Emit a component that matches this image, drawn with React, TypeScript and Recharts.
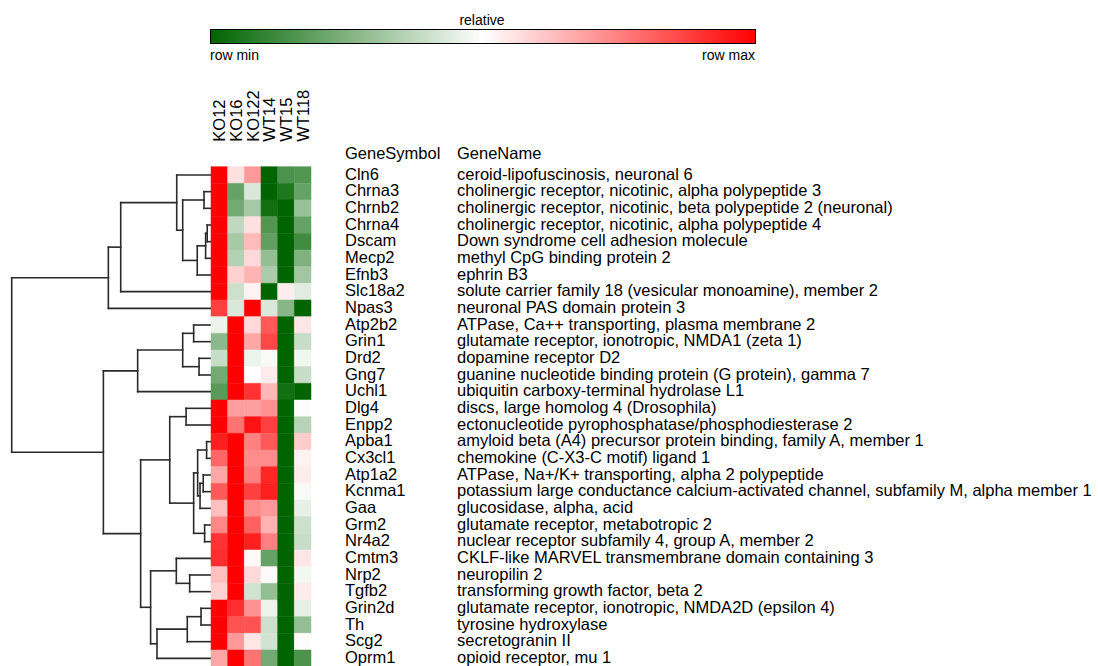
import { ComposedChart, XAxis, YAxis, ReferenceArea, ReferenceLine } from "recharts";

const samples = ["KO12", "KO16", "KO122", "WT14", "WT15", "WT118"];

const geneSymbols = [
  "Cln6", "Chrna3", "Chrnb2", "Chrna4", "Dscam", "Mecp2", "Efnb3", "Slc18a2", "Npas3", "Atp2b2",
  "Grin1", "Drd2", "Gng7", "Uchl1", "Dlg4", "Enpp2", "Apba1", "Cx3cl1", "Atp1a2", "Kcnma1",
  "Gaa", "Grm2", "Nr4a2", "Cmtm3", "Nrp2", "Tgfb2", "Grin2d", "Th", "Scg2", "Oprm1",
];

const geneNames = [
  "ceroid-lipofuscinosis, neuronal 6",
  "cholinergic receptor, nicotinic, alpha polypeptide 3",
  "cholinergic receptor, nicotinic, beta polypeptide 2 (neuronal)",
  "cholinergic receptor, nicotinic, alpha polypeptide 4",
  "Down syndrome cell adhesion molecule",
  "methyl CpG binding protein 2",
  "ephrin B3",
  "solute carrier family 18 (vesicular monoamine), member 2",
  "neuronal PAS domain protein 3",
  "ATPase, Ca++ transporting, plasma membrane 2",
  "glutamate receptor, ionotropic, NMDA1 (zeta 1)",
  "dopamine receptor D2",
  "guanine nucleotide binding protein (G protein), gamma 7",
  "ubiquitin carboxy-terminal hydrolase L1",
  "discs, large homolog 4 (Drosophila)",
  "ectonucleotide pyrophosphatase/phosphodiesterase 2",
  "amyloid beta (A4) precursor protein binding, family A, member 1",
  "chemokine (C-X3-C motif) ligand 1",
  "ATPase, Na+/K+ transporting, alpha 2 polypeptide",
  "potassium large conductance calcium-activated channel, subfamily M, alpha member 1",
  "glucosidase, alpha, acid",
  "glutamate receptor, metabotropic 2",
  "nuclear receptor subfamily 4, group A, member 2",
  "CKLF-like MARVEL transmembrane domain containing 3",
  "neuropilin 2",
  "transforming growth factor, beta 2",
  "glutamate receptor, ionotropic, NMDA2D (epsilon 4)",
  "tyrosine hydroxylase",
  "secretogranin II",
  "opioid receptor, mu 1",
];

// relative expression per sample, -1 = row min, 1 = row max
const ko12 = [1, 1, 1, 1, 1, 1, 1, 1, 0.75, -0.08, -0.45, -0.22, -0.55, -0.65, 1, 1, 0.88, 0.6, 0.35, 0.65, 0.25, 0.47, 0.8, 0.82, 0.25, 0.18, 1, 1, 1, 0.35];
const ko16 = [0.12, -0.6, -0.55, -0.25, -0.35, -0.3, 0.18, -0.2, -0.15, 1, 1, 1, 1, 1, 0.38, 0.55, 1, 1, 1, 1, 1, 1, 1, 1, 1, 1, 0.82, 0.68, 0.4, 1];
const ko122 = [0.4, -0.15, -0.35, 0.12, 0.27, 0.15, 0.3, 0.05, 1, 0.15, 0.35, -0.08, 0, 0.8, 0.38, 0.93, 0.5, 0.45, 0.5, 0.75, 0.45, 0.62, 0.88, 0.02, 0.15, -0.18, 0.43, 0.68, 0.1, 0.55];
const wt14 = [-1, -1, -0.93, -0.68, -0.62, -0.42, -0.33, -1, -0.15, 0.65, 0.72, -0.03, 0.08, 0.28, 0.43, 0.75, 0.65, 0.45, 0.85, 0.88, 0.4, 0.3, 0.5, -0.6, 0.02, -0.42, -0.08, -0.2, -0.18, -0.55];
const wt15 = [-0.7, -0.88, -1, -1, -1, -1, -1, 0.07, -0.47, -1, -1, -1, -1, -0.93, -1, -1, -1, -1, -1, -1, -1, -1, -1, -1, -1, -1, -1, -1, -1, -1];
const wt118 = [-0.68, -0.6, -0.4, -0.6, -0.75, -0.5, -0.37, -0.12, -1, 0.1, -0.22, -0.06, -0.22, -1, 0.01, -0.28, 0.2, 0.05, 0.07, -0.03, -0.1, -0.2, -0.22, 0.1, -0.05, 0.08, -0.1, -0.42, 0.01, -0.7];

const sampleValues = [ko12, ko16, ko122, wt14, wt15, wt118];

// row dendrogram, linkage style: [left, right, height]; ids >= 30 are earlier merges
const merges: [number, number, number][] = [
  [3, 4, 0.019], [1, 2, 0.035], [30, 5, 0.027], [32, 6, 0.069], [31, 33, 0.142],
  [0, 34, 0.172], [35, 7, 0.453], [36, 8, 0.515], [9, 10, 0.087], [11, 12, 0.06],
  [38, 39, 0.142], [40, 13, 0.368], [14, 15, 0.125], [16, 17, 0.022], [18, 19, 0.039],
  [44, 20, 0.055], [43, 45, 0.067], [21, 22, 0.032], [46, 47, 0.087], [42, 48, 0.207],
  [24, 25, 0.107], [23, 50, 0.174], [26, 27, 0.05], [52, 28, 0.119], [53, 29, 0.271],
  [51, 54, 0.303], [49, 55, 0.353], [41, 56, 0.54], [37, 57, 1.0],
];

const ROW_H = 500 / 30;
const TOP = 166.67;
const FONT = "'Liberation Sans', Arial, sans-serif";
const LABEL_SIZE = 16.5;

function cellColor(v: number) {
  const t = Math.min(1, Math.abs(v));
  const target = v < 0 ? [0, 100, 0] : [255, 0, 0];
  const c = target.map((ch) => Math.round(255 + (ch - 255) * t));
  return `rgb(${c[0]},${c[1]},${c[2]})`;
}

function dendroSegments() {
  const n = geneSymbols.length;
  const ys: number[] = geneSymbols.map((_, i) => i + 0.5);
  const hs: number[] = geneSymbols.map(() => 0);
  const segs: { x1: number; y1: number; x2: number; y2: number }[] = [];
  merges.forEach(([a, b, h], k) => {
    const ya = ys[a];
    const yb = ys[b];
    segs.push({ x1: hs[a], y1: ya, x2: h, y2: ya });
    segs.push({ x1: hs[b], y1: yb, x2: h, y2: yb });
    segs.push({ x1: h, y1: ya, x2: h, y2: yb });
    ys[n + k] = (ya + yb) / 2;
    hs[n + k] = h;
  });
  return segs;
}

const rowData = geneSymbols.map((g, i) => ({ gene: g, row: i + 0.5, col: 0.5 }));

function GeneTick(props: any) {
  const { x, y, payload } = props;
  const i = Math.floor(payload.value);
  return (
    <g>
      <text x={x + 34} y={y - 1.2} dominantBaseline="central" fontSize={LABEL_SIZE} fontFamily={FONT} fill="#000">
        {geneSymbols[i]}
      </text>
      <text x={x + 146} y={y - 1.2} dominantBaseline="central" fontSize={LABEL_SIZE} fontFamily={FONT} fill="#000">
        {geneNames[i]}
      </text>
    </g>
  );
}

function SampleTick(props: any) {
  const { x, y, payload } = props;
  const i = Math.floor(payload.value);
  return (
    <text
      x={x + 6}
      y={y - 25}
      transform={`rotate(-90 ${x + 6} ${y - 25})`}
      fontSize={LABEL_SIZE}
      fontFamily={FONT}
      fill="#000"
    >
      {samples[i]}
    </text>
  );
}

export default function App() {
  const segs = dendroSegments();
  return (
    <div
      style={{
        position: "absolute",
        left: 0,
        top: 0,
        width: 1098,
        height: 666,
        overflow: "hidden",
        background: "#fff",
        fontFamily: FONT,
      }}
    >
      <svg width={1098} height={170} style={{ position: "absolute", left: 0, top: 0 }}>
        <defs>
          <linearGradient id="relgrad" x1="0" x2="1" y1="0" y2="0">
            <stop offset="0" stopColor="#006400" />
            <stop offset="0.5" stopColor="#ffffff" />
            <stop offset="1" stopColor="#ff0000" />
          </linearGradient>
        </defs>
        <text x={482} y={20} textAnchor="middle" dominantBaseline="central" fontSize={14} fontFamily={FONT}>
          relative
        </text>
        <rect x={210.5} y={29.5} width={545} height={14} fill="url(#relgrad)" stroke="#000" strokeWidth={1} />
        <text x={210} y={55} dominantBaseline="central" fontSize={14} fontFamily={FONT}>
          row min
        </text>
        <text x={755} y={55} textAnchor="end" dominantBaseline="central" fontSize={14} fontFamily={FONT}>
          row max
        </text>
        <text x={345} y={153} dominantBaseline="central" fontSize={LABEL_SIZE} fontFamily={FONT}>
          GeneSymbol
        </text>
        <text x={457} y={153} dominantBaseline="central" fontSize={LABEL_SIZE} fontFamily={FONT}>
          GeneName
        </text>
      </svg>

      <div style={{ position: "absolute", left: 0, top: 0 }}>
        <ComposedChart
          width={212}
          height={700}
          data={rowData}
          margin={{ top: TOP, bottom: 700 - TOP - 30 * ROW_H, left: 11.7, right: 1 }}
        >
          <XAxis type="number" dataKey="col" domain={[0, 1]} reversed hide allowDataOverflow />
          <YAxis type="number" dataKey="row" domain={[0, 30]} reversed hide allowDataOverflow />
          {segs.map((s, i) => (
            <ReferenceLine
              key={i}
              segment={[
                { x: s.x1, y: s.y1 },
                { x: s.x2, y: s.y2 },
              ]}
              stroke="#2a2a2a"
              strokeWidth={1.6}
              strokeLinecap="square"
              ifOverflow="visible"
            />
          ))}
        </ComposedChart>
      </div>

      <div style={{ position: "absolute", left: 0, top: 0 }}>
        <ComposedChart
          width={1098}
          height={700}
          data={rowData}
          margin={{ top: 0, bottom: 700 - TOP - 30 * ROW_H, left: 211, right: 0 }}
        >
          <XAxis
            xAxisId="s"
            type="number"
            dataKey="col"
            orientation="top"
            domain={[0, 6]}
            allowDataOverflow
            ticks={[0.5, 1.5, 2.5, 3.5, 4.5, 5.5]}
            height={TOP}
            axisLine={false}
            tickLine={false}
            tickSize={0}
            tickMargin={0}
            interval={0}
            tick={<SampleTick />}
          />
          <YAxis
            yAxisId="g"
            type="number"
            dataKey="row"
            orientation="right"
            domain={[0, 30]}
            allowDataOverflow
            reversed
            ticks={geneSymbols.map((_, i) => i + 0.5)}
            width={787}
            axisLine={false}
            tickLine={false}
            tickSize={0}
            tickMargin={0}
            interval={0}
            tick={<GeneTick />}
          />
          {sampleValues.map((vals, c) =>
            vals.map((v, r) => (
              <ReferenceArea
                key={`${c}-${r}`}
                xAxisId="s"
                yAxisId="g"
                x1={c}
                x2={c + 1}
                y1={r}
                y2={r + 1}
                fill={cellColor(v)}
                fillOpacity={1}
                stroke={cellColor(v)}
                strokeWidth={0.5}
                ifOverflow="visible"
              />
            ))
          )}
        </ComposedChart>
      </div>
    </div>
  );
}
